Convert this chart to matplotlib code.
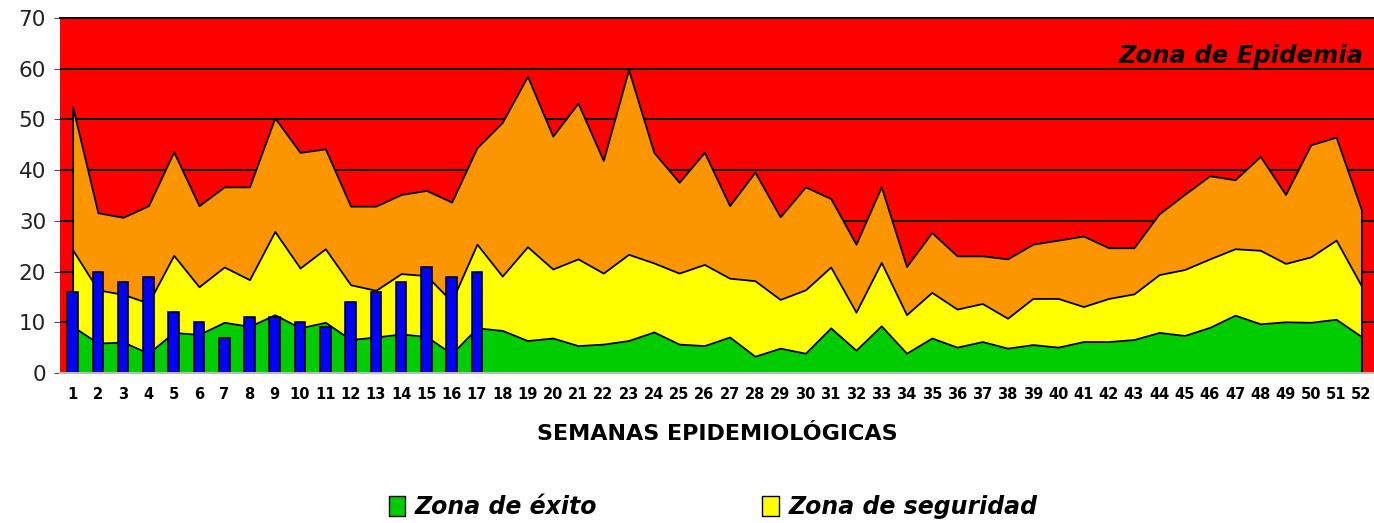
import matplotlib
matplotlib.use("Agg")
import matplotlib.pyplot as plt
from matplotlib.patches import Patch
import numpy as np

semanas = [str(i) for i in range(1, 53)]

# Upper limits of each zone
exito = [9.2, 5.9, 6.1, 3.9, 8.0, 7.6, 10.0, 9.2, 11.5, 8.9, 10.0, 6.6, 7.1, 7.7, 7.2, 3.8, 8.9,
         8.4, 6.4, 6.9, 5.4, 5.7, 6.4, 8.1, 5.7, 5.4, 7.1, 3.3, 4.9, 3.9, 8.9, 4.5, 9.3, 3.9, 6.9,
         5.1, 6.2, 4.9, 5.6, 5.1, 6.2, 6.2, 6.6, 8.0, 7.4, 9.0, 11.4, 9.7, 10.1, 10.0, 10.6, 7.2]
seguridad = [24.3, 16.4, 15.5, 13.8, 23.2, 17.0, 20.9, 18.4, 27.9, 20.7, 24.5, 17.4, 16.3, 19.6, 19.2, 14.1, 25.4,
             19.1, 24.9, 20.5, 22.5, 19.7, 23.4, 21.7, 19.7, 21.4, 18.7, 18.2, 14.5, 16.4, 20.9, 12.0, 21.8, 11.5, 15.9,
             12.6, 13.7, 10.8, 14.7, 14.7, 13.1, 14.7, 15.6, 19.4, 20.4, 22.5, 24.5, 24.2, 21.6, 22.9, 26.2, 17.2]
alerta = [52.5, 31.6, 30.7, 33.0, 43.6, 33.0, 36.7, 36.7, 50.3, 43.5, 44.2, 32.9, 32.9, 35.2, 36.0, 33.7, 44.4,
          49.4, 58.5, 46.7, 53.2, 41.9, 59.8, 43.5, 37.6, 43.5, 33.0, 39.6, 30.8, 36.7, 34.4, 25.4, 36.7, 21.0, 27.7,
          23.1, 23.1, 22.5, 25.4, 26.2, 27.0, 24.7, 24.7, 31.4, 35.2, 38.9, 38.1, 42.7, 35.2, 45.0, 46.5, 32.2]
casos = [16, 20, 18, 19, 12, 10, 7, 11, 11, 10, 9, 14, 16, 18, 21, 19, 20]

RED = "#FF0000"
ORANGE = "#FB9600"
YELLOW = "#FFFF00"
GREEN = "#00CC00"
BLUE = "#0000FF"

fig = plt.figure(figsize=(13.74, 5.23), dpi=100)
ax = fig.add_axes([60 / 1374, 1 - 373 / 523, 1 - 60 / 1374, (373 - 18) / 523])

x = np.arange(1, 53)
ax.set_facecolor(RED)
lw = 1.3
ax.fill_between(x, 0, alerta, facecolor=ORANGE, edgecolor="black", linewidth=lw, zorder=1)
ax.fill_between(x, 0, seguridad, facecolor=YELLOW, edgecolor="black", linewidth=lw, zorder=1.1)
ax.fill_between(x, 0, exito, facecolor=GREEN, edgecolor="black", linewidth=lw, zorder=1.2)

xb = np.arange(1, len(casos) + 1)
ax.bar(xb, casos, width=0.42, color=BLUE, edgecolor="black", linewidth=1.2, zorder=2)

ax.set_xlim(0.5, 52.5)
ax.set_ylim(0, 70)
ax.set_yticks(range(0, 71, 10))
ax.set_axisbelow(True)
ax.yaxis.grid(True, color="black", linewidth=1.4)
ax.xaxis.grid(False)

ax.set_xticks(x)
ax.set_xticklabels(semanas, fontsize=10.5, fontweight="bold", family="DejaVu Sans")
ax.tick_params(axis="x", length=0, pad=10)
ax.tick_params(axis="y", labelsize=15.5, length=4, color="#555555", pad=6, labelcolor="#222222")

for s in ["left", "right"]:
    ax.spines[s].set_visible(False)
ax.spines["top"].set_color("black")
ax.spines["top"].set_linewidth(1.4)
ax.spines["bottom"].set_color("#BBBBBB")
ax.spines["bottom"].set_linewidth(1.5)

ax.set_xlabel("SEMANAS EPIDEMIOLÓGICAS", fontsize=16, fontweight="bold", labelpad=16)

ax.text(52.1, 62.6, "Zona de Epidemia", ha="right", va="center", fontsize=17.5,
        fontweight="bold", fontstyle="italic", color="black", zorder=3)

handles = [Patch(facecolor=GREEN, edgecolor="black", linewidth=1),
           Patch(facecolor=YELLOW, edgecolor="black", linewidth=1)]
fig.legend(handles, ["Zona de éxito", "Zona de seguridad"], loc="center",
           bbox_to_anchor=(0.519, 0.03), ncol=2, frameon=False, columnspacing=7,
           handlelength=0.7, handleheight=0.9, handletextpad=0.4,
           prop={"size": 17, "weight": "bold", "style": "italic"})

fig.savefig("out.png", dpi=100)
